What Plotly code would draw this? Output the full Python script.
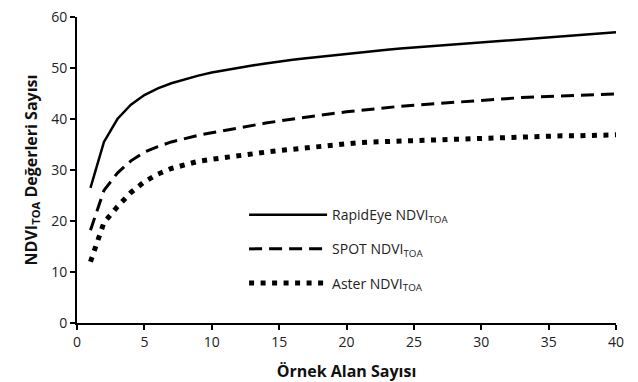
import plotly.graph_objects as go

x_vals = list(range(1, 41))
rapideye = [26.5, 35.5, 40.0, 42.8, 44.7, 46.0, 47.0, 47.8, 48.5, 49.1,
            49.6, 50.1, 50.5, 50.9, 51.3, 51.6, 51.9, 52.2, 52.5, 52.8,
            53.1, 53.3, 53.6, 53.8, 54.0, 54.2, 54.4, 54.6, 54.8, 55.0,
            55.2, 55.4, 55.6, 55.7, 55.9, 56.1, 56.3, 56.5, 56.7, 57.0]
spot = [18.2, 26.0, 29.4, 31.8, 33.5, 34.6, 35.5, 36.2, 36.8, 37.3,
        37.8, 38.3, 38.8, 39.2, 39.6, 40.0, 40.4, 40.8, 41.1, 41.4,
        41.7, 42.0, 42.3, 42.5, 42.7, 42.9, 43.1, 43.3, 43.5, 43.7,
        43.9, 44.0, 44.2, 44.3, 44.4, 44.5, 44.6, 44.7, 44.8, 44.9]
aster = [12.0, 19.7, 22.8, 25.6, 27.7, 29.2, 30.3, 31.1, 31.7, 32.1,
         32.5, 32.9, 33.2, 33.5, 33.8, 34.1, 34.4, 34.7, 35.0, 35.2,
         35.4, 35.5, 35.6, 35.7, 35.8, 35.9, 36.0, 36.1, 36.2, 36.3,
         36.4, 36.5, 36.5, 36.6, 36.6, 36.7, 36.7, 36.8, 36.8, 36.9]
names = ["RapidEye NDVI<sub>TOA</sub>", "SPOT NDVI<sub>TOA</sub>", "Aster NDVI<sub>TOA</sub>"]
x_ticks = [0, 5, 10, 15, 20, 25, 30, 35, 40]
y_ticks = [0, 10, 20, 30, 40, 50, 60]

fig = go.Figure()
fig.add_trace(go.Scatter(x=x_vals, y=rapideye, mode="lines", name=names[0], legendgroup="a",
                         line=dict(color="black", width=2.5, dash="solid")))
fig.add_trace(go.Scatter(x=x_vals, y=spot, mode="lines", name=names[1], legendgroup="b",
                         line=dict(color="black", width=3, dash="13px,7px")))
fig.add_trace(go.Scatter(x=x_vals, y=aster, mode="lines", name=names[2], legendgroup="c",
                         line=dict(color="black", width=5, dash="5px,6.5px")))

font = "Open Sans, sans-serif"
fig.update_layout(
    width=638, height=382,
    margin=dict(l=77, r=22, t=17, b=59),
    paper_bgcolor="white", plot_bgcolor="white",
    font=dict(family=font, size=14, color="#222"),
    legend=dict(x=0.31, y=0.405, xanchor="left", yanchor="top",
                itemwidth=78, tracegroupgap=13, bgcolor="rgba(0,0,0,0)",
                font=dict(size=14, color="#222")),
    xaxis=dict(range=[0, 40], tickvals=x_ticks, showgrid=False, zeroline=False,
               showline=True, linecolor="black", linewidth=2, automargin=False,
               ticks="outside", ticklen=5, tickwidth=2, tickcolor="black",
               title=dict(text="<b>Örnek Alan Sayısı</b>", font=dict(size=16, color="#111"), standoff=17)),
    yaxis=dict(range=[0, 60], tickvals=y_ticks, showgrid=False, zeroline=False,
               showline=True, linecolor="black", linewidth=2, automargin=False,
               ticks="outside", ticklen=5, tickwidth=2, tickcolor="black",
               title=dict(text="<b>NDVI<sub>TOA</sub> Değerleri Sayısı</b>", font=dict(size=16, color="#111"), standoff=10)),
)
fig.write_html("out.html")
